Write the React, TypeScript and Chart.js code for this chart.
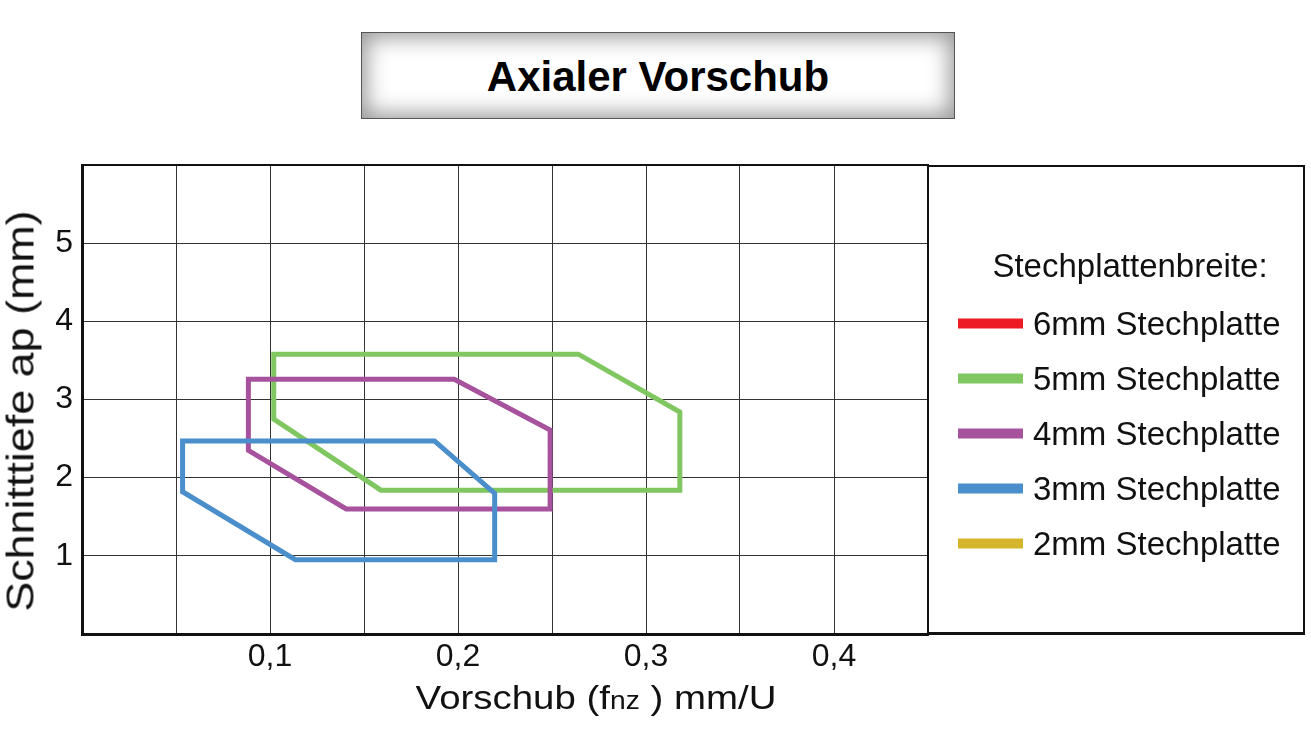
import React, { useEffect, useRef } from "react";
import { Chart, registerables } from "chart.js";

Chart.register(...registerables);

const chartTitle = "Axialer Vorschub";
const xAxisMain = "Vorschub (f";
const xAxisSub = "nz";
const xAxisEnd = "\u00a0) mm/U";
const yAxisTitle = "Schnitttiefe ap (mm)";
const legendHeading = "Stechplattenbreite:";

const xTickValues = [0.1, 0.2, 0.3, 0.4];
const xTickLabels = ["0,1", "0,2", "0,3", "0,4"];
const yTickValues = [1, 2, 3, 4, 5];
const yTickLabels = ["1", "2", "3", "4", "5"];

const seriesNames = [
  "6mm Stechplatte",
  "5mm Stechplatte",
  "4mm Stechplatte",
  "3mm Stechplatte",
  "2mm Stechplatte",
];
const seriesColors = ["#ed1c24", "#80c661", "#a6529d", "#4a8ecb", "#d5b52b"];

const plate6X: number[] = [];
const plate6Y: number[] = [];
const plate5X = [0.102, 0.264, 0.318, 0.318, 0.159, 0.102];
const plate5Y = [3.58, 3.58, 2.84, 1.84, 1.84, 2.75];
const plate4X = [0.0885, 0.198, 0.249, 0.249, 0.1405, 0.0885];
const plate4Y = [3.26, 3.26, 2.61, 1.6, 1.6, 2.35];
const plate3X = [0.0535, 0.1875, 0.2195, 0.2195, 0.1135, 0.0535];
const plate3Y = [2.47, 2.47, 1.8, 0.95, 0.95, 1.82];
const plate2X: number[] = [];
const plate2Y: number[] = [];

const seriesX = [plate6X, plate5X, plate4X, plate3X, plate2X];
const seriesY = [plate6Y, plate5Y, plate4Y, plate3Y, plate2Y];

function closedPolygon(xs: number[], ys: number[]) {
  const pts = xs.map((x, i) => ({ x, y: ys[i] }));
  if (pts.length > 0) pts.push({ ...pts[0] });
  return pts;
}

const FONT = "'Liberation Sans', Arial, Helvetica, sans-serif";

const framePlugin = {
  id: "frame",
  afterDraw(chart: any) {
    const { ctx, chartArea } = chart;
    ctx.save();
    ctx.strokeStyle = "#111";
    ctx.lineWidth = 2;
    ctx.beginPath();
    ctx.moveTo(chartArea.left, chartArea.top);
    ctx.lineTo(chartArea.right, chartArea.top);
    ctx.lineTo(chartArea.right, chartArea.bottom);
    ctx.stroke();
    ctx.restore();
  },
};

export default function App() {
  const canvasRef = useRef<HTMLCanvasElement | null>(null);

  useEffect(() => {
    if (!canvasRef.current) return;
    const n = seriesNames.length;
    const chart = new Chart(canvasRef.current, {
      type: "scatter",
      data: {
        datasets: seriesNames.map((name, i) => ({
          label: name,
          data: closedPolygon(seriesX[i], seriesY[i]),
          showLine: true,
          borderColor: seriesColors[i],
          backgroundColor: seriesColors[i],
          borderWidth: 5,
          pointRadius: 0,
          borderJoinStyle: "miter" as const,
          borderCapStyle: "square" as const,
          tension: 0,
          order: n - 1 - i,
        })),
      },
      options: {
        animation: false,
        responsive: false,
        devicePixelRatio: 1,
        layout: { padding: { left: 0, right: 383, top: 165, bottom: 0 } },
        plugins: {
          legend: { display: false },
          tooltip: { enabled: false },
          title: { display: false },
        },
        scales: {
          x: {
            type: "linear",
            min: 0,
            max: 0.45,
            afterFit: (s: any) => {
              s.height = 96;
            },
            ticks: {
              stepSize: 0.05,
              autoSkip: false,
              maxRotation: 0,
              padding: 4,
              color: "#111",
              font: { family: FONT, size: 32 },
              callback: (v: any) => {
                const idx = xTickValues.findIndex((t) => Math.abs(t - Number(v)) < 1e-6);
                return idx >= 0 ? xTickLabels[idx] : "";
              },
            },
            grid: { color: "#333", lineWidth: 1, drawTicks: false },
            border: { color: "#111", width: 3 },
          },
          y: {
            type: "linear",
            min: 0,
            max: 6,
            afterFit: (s: any) => {
              s.width = 82;
            },
            ticks: {
              stepSize: 1,
              padding: 9,
              color: "#111",
              font: { family: FONT, size: 32 },
              callback: (v: any) => {
                const idx = yTickValues.findIndex((t) => Math.abs(t - Number(v)) < 1e-6);
                return idx >= 0 ? yTickLabels[idx] : "";
              },
            },
            grid: { color: "#333", lineWidth: 1, drawTicks: false },
            border: { color: "#111", width: 3 },
          },
        },
      },
      plugins: [framePlugin],
    });
    return () => chart.destroy();
  }, []);

  return (
    <div
      style={{
        position: "fixed",
        left: 0,
        top: 0,
        width: 1311,
        height: 730,
        background: "#fff",
        fontFamily: FONT,
        color: "#111",
        overflow: "hidden",
      }}
    >
      <canvas
        ref={canvasRef}
        width={1311}
        height={730}
        style={{ position: "absolute", left: 0, top: 0, width: 1311, height: 730 }}
      />
      {/* Title box */}
      <div
        style={{
          position: "absolute",
          left: 361,
          top: 32,
          width: 594,
          height: 87,
          boxSizing: "border-box",
          border: "1px solid #555",
          background: "#fff",
          boxShadow: "inset 0 0 22px 4px rgba(0,0,0,0.42)",
          display: "flex",
          alignItems: "center",
          justifyContent: "center",
          fontWeight: "bold",
          fontSize: 42,
          lineHeight: 1,
          color: "#000",
        }}
      >
        <span style={{ position: "relative", top: 1 }}>{chartTitle}</span>
      </div>
      {/* Y axis title */}
      <div
        style={{
          position: "absolute",
          left: 20,
          top: 411,
          fontSize: 39,
          lineHeight: 1,
          whiteSpace: "nowrap",
          transform: "translate(-50%, -50%) rotate(-90deg) scaleX(1.15)",
        }}
      >
        {yAxisTitle}
      </div>
      {/* X axis title */}
      <div
        style={{
          position: "absolute",
          left: 596,
          top: 697,
          fontSize: 34,
          lineHeight: 1,
          whiteSpace: "nowrap",
          transform: "translate(-50%, -50%) scaleX(1.13)",
        }}
      >
        {xAxisMain}
        <span style={{ fontSize: 25 }}>{xAxisSub}</span>
        {xAxisEnd}
      </div>
      {/* Legend box */}
      <div
        style={{
          position: "absolute",
          left: 927,
          top: 165,
          width: 378,
          height: 470,
          boxSizing: "border-box",
          border: "2px solid #111",
          borderBottomWidth: 3,
        }}
      />
      <div
        style={{
          position: "absolute",
          left: 1130,
          top: 265,
          fontSize: 33,
          lineHeight: 1,
          whiteSpace: "nowrap",
          transform: "translate(-50%, -50%)",
        }}
      >
        {legendHeading}
      </div>
      {seriesNames.map((name, i) => (
        <div
          key={name}
          style={{
            position: "absolute",
            left: 958,
            top: 323 + i * 55,
            display: "flex",
            alignItems: "center",
            transform: "translateY(-50%)",
            whiteSpace: "nowrap",
          }}
        >
          <div style={{ width: 65, height: 10, background: seriesColors[i], marginRight: 10 }} />
          <span style={{ fontSize: 33, lineHeight: 1 }}>{name}</span>
        </div>
      ))}
    </div>
  );
}
